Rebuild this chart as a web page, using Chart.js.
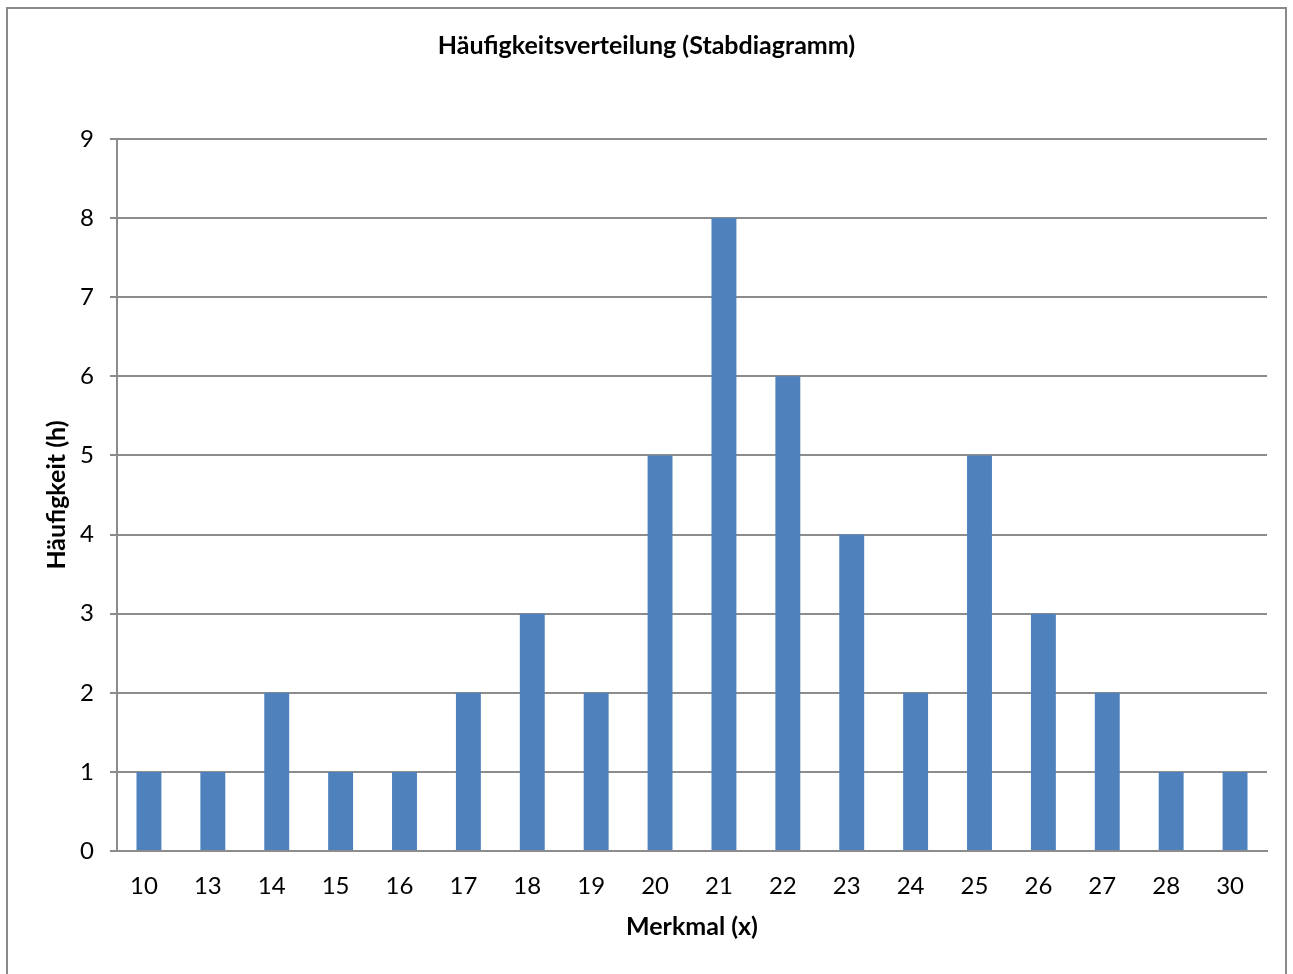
<!DOCTYPE html>
<html>
<head>
<meta charset="utf-8">
<script src="https://cdn.jsdelivr.net/npm/chart.js@4"></script>
<style>
  html, body { margin: 0; padding: 0; background: #fff; }
  #frame { position: absolute; left: 6px; top: 7px; width: 1277px; height: 1000px; border: 2px solid #8a8a8a; }
  #wrap { position: absolute; left: 0; top: 0; width: 1293px; height: 974px; }
</style>
</head>
<body>
<div id="frame"></div>
<div id="wrap"><canvas id="bar_Haeufigkeit"></canvas></div>
<script>
const merkmal = ["10", "13", "14", "15", "16", "17", "18", "19", "20", "21", "22", "23", "24", "25", "26", "27", "28", "30"];
const haeufigkeit = [1, 1, 2, 1, 1, 2, 3, 2, 5, 8, 6, 4, 2, 5, 3, 2, 1, 1];
const yTicks = [0, 1, 2, 3, 4, 5, 6, 7, 8, 9];

const fontFamily = "Lato, 'Open Sans', sans-serif";
const axisGray = "#8c8c8c";

const config_Haeufigkeit = {
    type: "bar",
    data: {
        labels: merkmal,
        datasets: [
            {
                label: "Häufigkeit",
                data: haeufigkeit,
                backgroundColor: "#4f81bd",
                borderWidth: 0,
                barPercentage: 0.39,
                categoryPercentage: 1.0
            }
        ]
    },
    options: {
        responsive: false,
        animation: false,
        devicePixelRatio: 1,
        layout: {
            padding: { left: 26, right: 26, top: 0, bottom: 0 }
        },
        plugins: {
            legend: { display: false },
            tooltip: { enabled: false },
            title: {
                display: true,
                text: "Häufigkeitsverteilung (Stabdiagramm)",
                color: "#000",
                font: { family: fontFamily, size: 25, weight: "bold", lineHeight: 1.2 },
                padding: { top: 31, bottom: 78 }
            }
        },
        scales: {
            x: {
                grid: { display: false, drawTicks: false },
                border: { display: true, color: axisGray, width: 2 },
                ticks: {
                    color: "#000",
                    font: { family: fontFamily, size: 24 },
                    padding: 21,
                    labelOffset: -5,
                    maxRotation: 0,
                    autoSkip: false
                },
                title: {
                    display: true,
                    text: "Merkmal (x)",
                    color: "#000",
                    font: { family: fontFamily, size: 25, weight: "bold", lineHeight: 1.2 },
                    padding: { top: 0, bottom: 32 }
                },
                afterFit: function (scale) { scale.height = 123; }
            },
            y: {
                min: 0,
                max: 9,
                afterBuildTicks: function (scale) {
                    scale.ticks = yTicks.map(v => ({ value: v }));
                },
                grid: { color: axisGray, lineWidth: 2, tickLength: 7, drawTicks: true },
                border: { display: true, color: axisGray, width: 2 },
                ticks: {
                    color: "#000",
                    font: { family: fontFamily, size: 24 },
                    padding: 16
                },
                title: {
                    display: true,
                    text: "Häufigkeit (h)",
                    color: "#000",
                    font: { family: fontFamily, size: 25, weight: "bold", lineHeight: 1.2 },
                    padding: { top: 16, bottom: 0 }
                },
                afterFit: function (scale) { scale.width = 91; }
            }
        }
    }
};

const canvas_Haeufigkeit = document.getElementById("bar_Haeufigkeit");
canvas_Haeufigkeit.width = 1293;
canvas_Haeufigkeit.height = 974;
const ctx_Haeufigkeit = canvas_Haeufigkeit.getContext("2d");
const myChart_Haeufigkeit = new Chart(ctx_Haeufigkeit, config_Haeufigkeit);
</script>
</body>
</html>
